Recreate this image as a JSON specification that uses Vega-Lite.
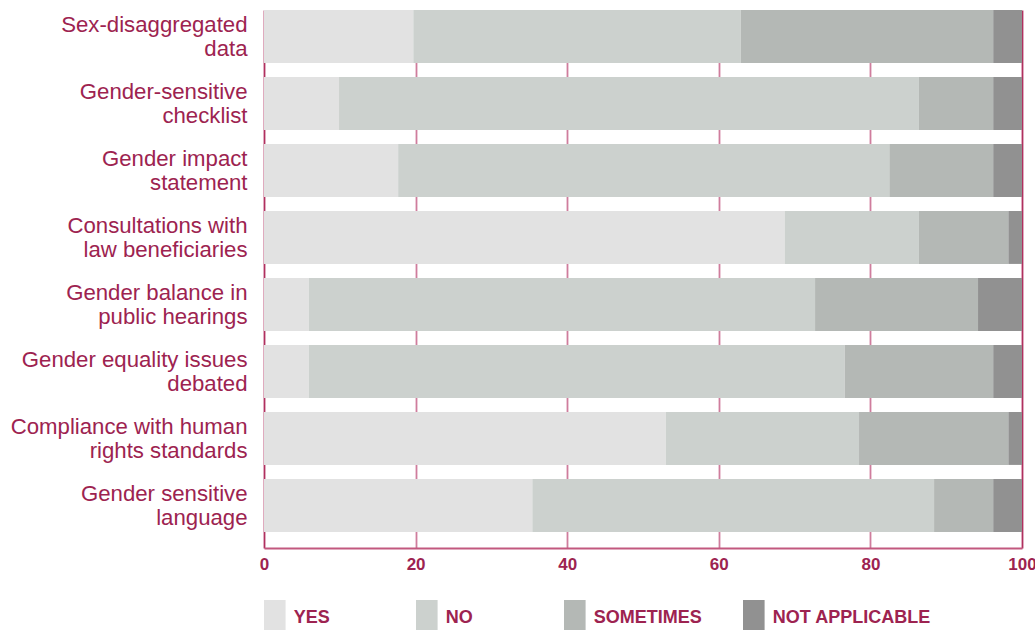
{
  "$schema": "https://vega.github.io/schema/vega-lite/v6.json",
  "width": 758,
  "height": 538,
  "autosize": {"type": "none"},
  "padding": {"left": 264, "top": 10, "right": 13, "bottom": 82},
  "background": "white",
  "data": {
    "values": [
      {"item": "Sex-disaggregated|data", "response": "YES", "rank": 1, "value": 19.7},
      {"item": "Sex-disaggregated|data", "response": "NO", "rank": 2, "value": 43.2},
      {"item": "Sex-disaggregated|data", "response": "SOMETIMES", "rank": 3, "value": 33.3},
      {"item": "Sex-disaggregated|data", "response": "NOT APPLICABLE", "rank": 4, "value": 3.8},
      {"item": "Gender-sensitive|checklist", "response": "YES", "rank": 1, "value": 9.9},
      {"item": "Gender-sensitive|checklist", "response": "NO", "rank": 2, "value": 76.5},
      {"item": "Gender-sensitive|checklist", "response": "SOMETIMES", "rank": 3, "value": 9.8},
      {"item": "Gender-sensitive|checklist", "response": "NOT APPLICABLE", "rank": 4, "value": 3.8},
      {"item": "Gender impact|statement", "response": "YES", "rank": 1, "value": 17.7},
      {"item": "Gender impact|statement", "response": "NO", "rank": 2, "value": 64.8},
      {"item": "Gender impact|statement", "response": "SOMETIMES", "rank": 3, "value": 13.7},
      {"item": "Gender impact|statement", "response": "NOT APPLICABLE", "rank": 4, "value": 3.8},
      {"item": "Consultations with|law beneficiaries", "response": "YES", "rank": 1, "value": 68.7},
      {"item": "Consultations with|law beneficiaries", "response": "NO", "rank": 2, "value": 17.7},
      {"item": "Consultations with|law beneficiaries", "response": "SOMETIMES", "rank": 3, "value": 11.8},
      {"item": "Consultations with|law beneficiaries", "response": "NOT APPLICABLE", "rank": 4, "value": 1.8},
      {"item": "Gender balance in|public hearings", "response": "YES", "rank": 1, "value": 5.9},
      {"item": "Gender balance in|public hearings", "response": "NO", "rank": 2, "value": 66.8},
      {"item": "Gender balance in|public hearings", "response": "SOMETIMES", "rank": 3, "value": 21.5},
      {"item": "Gender balance in|public hearings", "response": "NOT APPLICABLE", "rank": 4, "value": 5.8},
      {"item": "Gender equality issues|debated", "response": "YES", "rank": 1, "value": 5.9},
      {"item": "Gender equality issues|debated", "response": "NO", "rank": 2, "value": 70.7},
      {"item": "Gender equality issues|debated", "response": "SOMETIMES", "rank": 3, "value": 19.6},
      {"item": "Gender equality issues|debated", "response": "NOT APPLICABLE", "rank": 4, "value": 3.8},
      {"item": "Compliance with human|rights standards", "response": "YES", "rank": 1, "value": 53.0},
      {"item": "Compliance with human|rights standards", "response": "NO", "rank": 2, "value": 25.5},
      {"item": "Compliance with human|rights standards", "response": "SOMETIMES", "rank": 3, "value": 19.7},
      {"item": "Compliance with human|rights standards", "response": "NOT APPLICABLE", "rank": 4, "value": 1.8},
      {"item": "Gender sensitive|language", "response": "YES", "rank": 1, "value": 35.4},
      {"item": "Gender sensitive|language", "response": "NO", "rank": 2, "value": 53.0},
      {"item": "Gender sensitive|language", "response": "SOMETIMES", "rank": 3, "value": 7.8},
      {"item": "Gender sensitive|language", "response": "NOT APPLICABLE", "rank": 4, "value": 3.8}
    ]
  },
  "mark": {"type": "bar", "strokeWidth": 0},
  "encoding": {
    "y": {
      "field": "item",
      "type": "nominal",
      "sort": null,
      "scale": {"paddingInner": 0.21, "paddingOuter": 0.12, "align": 0},
      "axis": {
        "title": null,
        "labelExpr": "split(datum.label, '|')",
        "labelFont": "Liberation Sans",
        "labelFontSize": 22.2,
        "labelLineHeight": 24,
        "labelColor": "#9d2350",
        "labelPadding": 17,
        "labelOffset": -11.5,
        "labelLimit": 300,
        "ticks": false,
        "tickSize": 0,
        "domain": false,
        "grid": false
      }
    },
    "x": {
      "field": "value",
      "type": "quantitative",
      "stack": "zero",
      "scale": {"domain": [0, 100], "nice": false},
      "axis": {
        "title": null,
        "values": [0, 20, 40, 60, 80, 100],
        "grid": true,
        "gridColor": {"condition": {"test": "datum.value == 0 || datum.value == 100", "value": "#b0305f"}, "value": "#cf7d9d"},
        "gridWidth": 1.8,
        "domain": true,
        "domainColor": "#c2587f",
        "domainWidth": 2,
        "ticks": false,
        "tickSize": 0,
        "labelFont": "Liberation Sans",
        "labelFontWeight": "bold",
        "labelFontSize": 17,
        "labelColor": "#9d2350",
        "labelPadding": 8,
        "labelFlush": false
      }
    },
    "order": {"field": "rank", "type": "quantitative", "sort": "ascending"},
    "color": {
      "field": "response",
      "type": "nominal",
      "sort": ["YES", "NO", "SOMETIMES", "NOT APPLICABLE"],
      "scale": {
        "domain": ["YES", "NO", "SOMETIMES", "NOT APPLICABLE"],
        "range": ["#e2e2e2", "#ccd1ce", "#b4b8b5", "#919191"]
      },
      "legend": {
        "orient": "none",
        "legendX": -7.2,
        "legendY": 590,
        "direction": "horizontal",
        "columns": 4,
        "title": null,
        "padding": 0,
        "symbolType": "M-0.6,-1H0.6V1H-0.6Z",
        "symbolSize": 1296,
        "symbolStrokeWidth": 0,
        "symbolOpacity": 1,
        "labelOffset": 1,
        "columnPadding": 28,
        "labelFont": "Liberation Sans",
        "labelFontWeight": "bold",
        "labelFontSize": 18,
        "labelColor": "#9d2350",
        "labelLimit": 400,
        "labelExpr": "datum.label == 'YES' ? 'YES\u00a0\u00a0\u00a0\u00a0\u00a0\u00a0\u00a0\u00a0\u00a0\u00a0\u200b' : datum.label == 'NO' ? 'NO\u00a0\u00a0\u00a0\u00a0\u00a0\u00a0\u00a0\u00a0\u00a0\u00a0\u00a0\u200b' : datum.label == 'SOMETIMES' ? 'SOMETIMES\u00a0\u200b' : datum.label"
      }
    }
  },
  "config": {"view": {"stroke": null}}
}
